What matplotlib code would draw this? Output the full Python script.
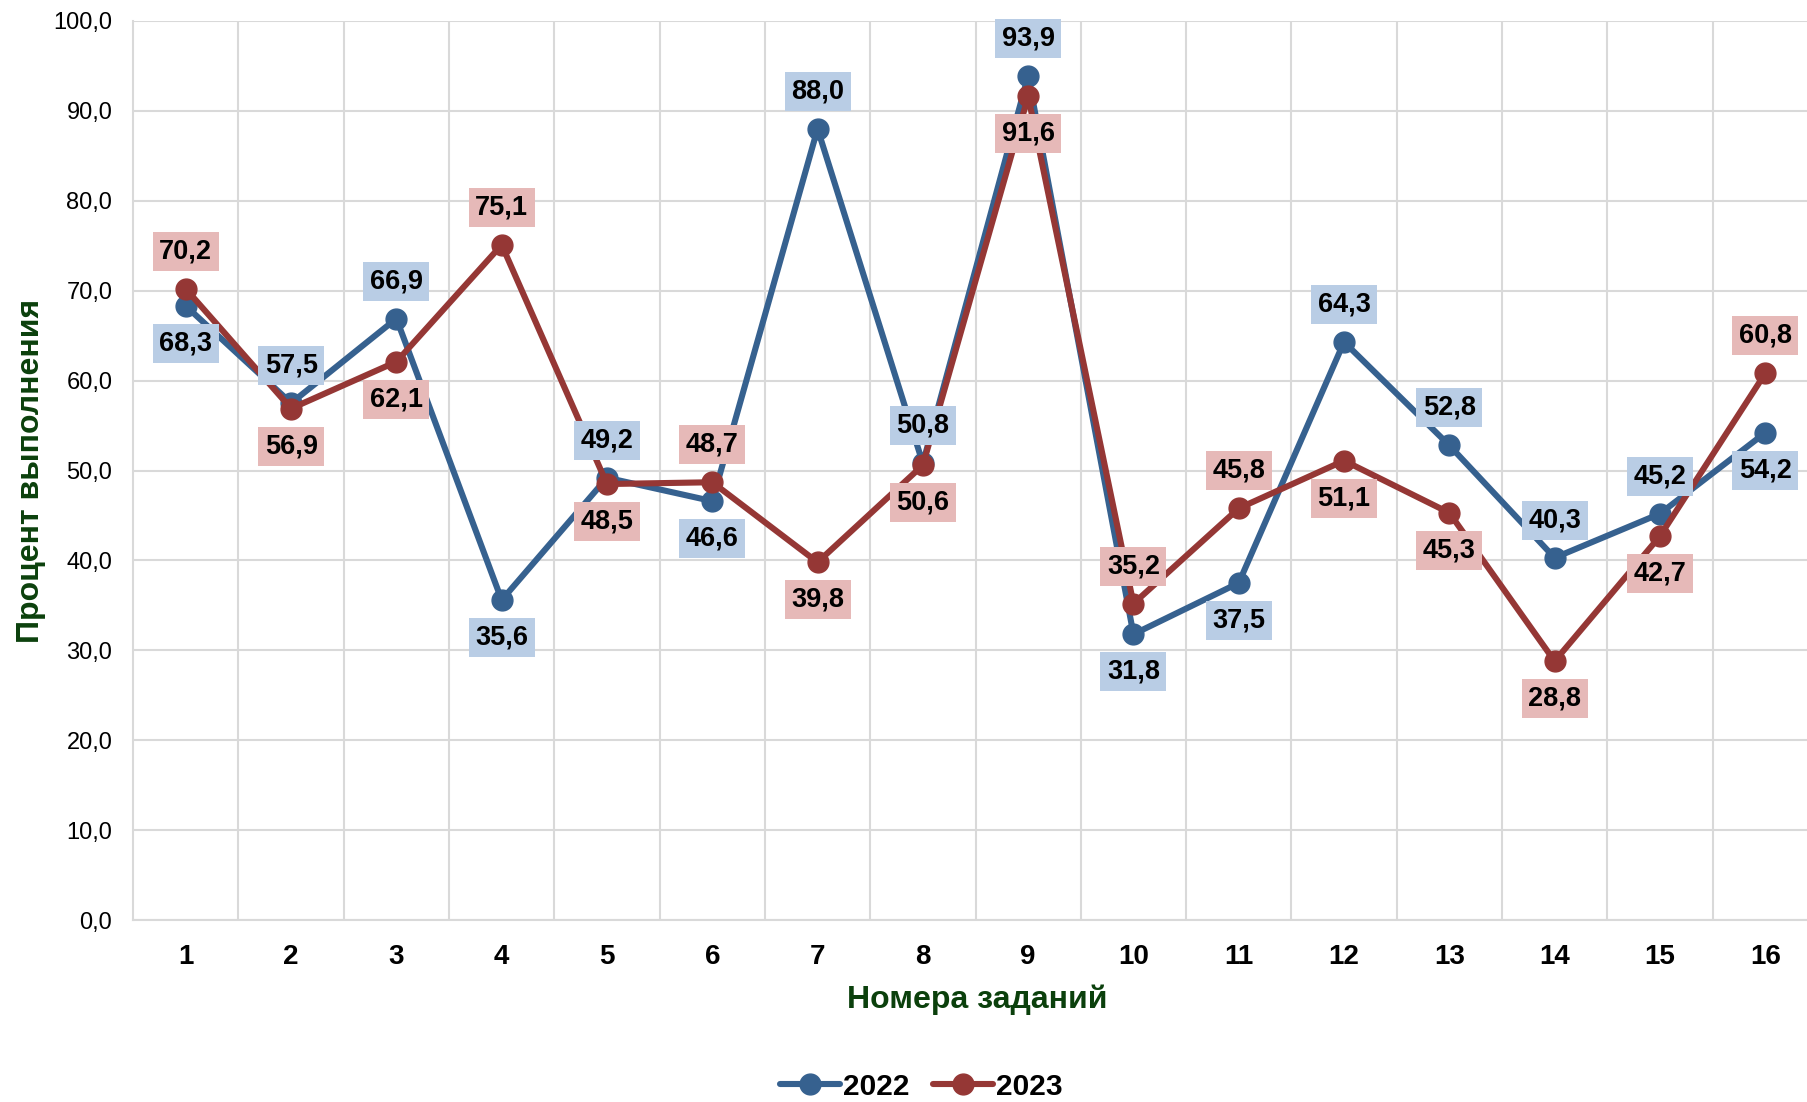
#!/usr/bin/env python3
"""
Line chart: percent of task completion by task number, 2022 vs 2023
"""
import matplotlib
matplotlib.use("Agg")
import matplotlib.pyplot as plt
from matplotlib.ticker import FuncFormatter, MultipleLocator

tasks = list(range(1, 17))
values_2022 = [68.3, 57.5, 66.9, 35.6, 49.2, 46.6, 88.0, 50.8,
               93.9, 31.8, 37.5, 64.3, 52.8, 40.3, 45.2, 54.2]
values_2023 = [70.2, 56.9, 62.1, 75.1, 48.5, 48.7, 39.8, 50.6,
               91.6, 35.2, 45.8, 51.1, 45.3, 28.8, 42.7, 60.8]
# where the data label sits: 1 above the point, -1 below
side_2022 = [-1, 1, 1, -1, 1, -1, 1, 1, 1, -1, -1, 1, 1, 1, 1, -1]
side_2023 = [1, -1, -1, 1, -1, 1, -1, -1, -1, 1, 1, -1, -1, -1, -1, 1]

BLUE = "#36618f"
RED = "#953735"
BLUE_BOX = "#b9cde5"
RED_BOX = "#e6b9b8"
GREEN = "#0b400c"
GRID = "#d9d9d9"

plt.rcParams['font.family'] = ['Liberation Sans', 'DejaVu Sans']

fig = plt.figure(figsize=(18.07, 11.02), dpi=100)
ax = fig.add_axes([0.0737, 0.165, 0.9323, 0.816])

ax.plot(tasks, values_2022, color=BLUE, lw=4.4, marker='o', ms=15,
        label="2022", zorder=3, solid_capstyle='round')
ax.plot(tasks, values_2023, color=RED, lw=4.4, marker='o', ms=15,
        label="2023", zorder=4, solid_capstyle='round')

def fmt(v):
    return "{:.1f}".format(v).replace(".", ",")

for vals, sides, box in ((values_2022, side_2022, BLUE_BOX),
                         (values_2023, side_2023, RED_BOX)):
    for x, v, s in zip(tasks, vals, sides):
        ax.annotate(fmt(v), (x, v), xytext=(0, 27 * s), textcoords='offset points',
                    ha='center', va='center', fontsize=19.5, fontweight='bold',
                    bbox=dict(boxstyle='square,pad=0.24', fc=box, ec='none'),
                    zorder=6, annotation_clip=False)

ax.set_xlim(0.5, 16.5)
ax.set_ylim(0, 100)
ax.set_xticks(tasks)
ax.set_xticklabels([str(t) for t in tasks], fontsize=20, fontweight='bold')
ax.yaxis.set_major_locator(MultipleLocator(10))
ax.yaxis.set_major_formatter(FuncFormatter(lambda v, _: fmt(v)))
ax.tick_params(axis='y', labelsize=17, length=0, pad=15)
ax.tick_params(axis='x', length=0, pad=17)

# vertical grid between categories
for b in range(1, 17):
    ax.axvline(b + 0.5, color=GRID, lw=1.5, zorder=0)
ax.grid(axis='y', color=GRID, lw=1.5, zorder=0)
ax.set_axisbelow(True)
for side in ('top', 'right'):
    ax.spines[side].set_visible(False)
for side in ('left', 'bottom'):
    ax.spines[side].set_color(GRID)
    ax.spines[side].set_linewidth(1.5)

fig.text(0.017, 0.573, "Процент выполнения", rotation=90,
         ha='center', va='center', fontsize=23, fontweight='bold', color=GREEN)
fig.text(0.541, 0.093, "Номера заданий", ha='center', va='center',
         fontsize=23, fontweight='bold', color=GREEN)

leg = fig.legend(loc='center', bbox_to_anchor=(0.51, 0.014), ncol=2, frameon=False,
                 prop={'size': 21.5, 'weight': 'bold'}, handlelength=2.0,
                 handletextpad=0.1, columnspacing=0.8)

fig.savefig("out.png", dpi=100)
